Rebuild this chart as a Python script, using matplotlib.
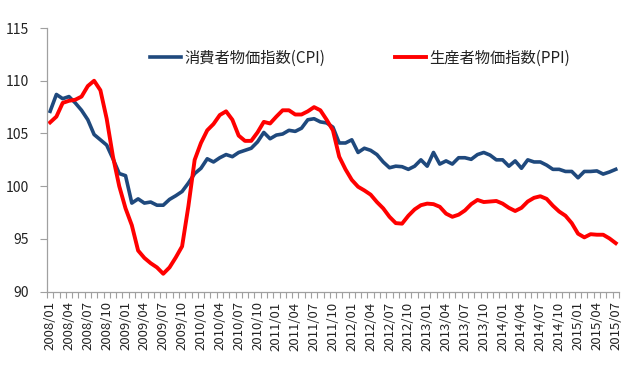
import numpy as np
import matplotlib
matplotlib.use("Agg")
import matplotlib.pyplot as plt

plt.rcParams['font.family'] = ['Noto Sans CJK JP', 'DejaVu Sans']

# 2008/01 .. 2015/07 monthly
months = [f"{y}/{m:02d}" for y in range(2008, 2016) for m in range(1, 13)][:91]

cpi = [107.1, 108.7, 108.3, 108.5, 107.9, 107.2, 106.3, 104.9, 104.4, 103.9,
       102.6, 101.2, 101.0, 98.4, 98.8, 98.4, 98.5, 98.2, 98.2, 98.75,
       99.1, 99.5, 100.3, 101.2, 101.7, 102.6, 102.3, 102.7, 103.0, 102.8,
       103.2, 103.4, 103.6, 104.2, 105.1, 104.5, 104.85, 104.95, 105.3, 105.2,
       105.5, 106.3, 106.4, 106.1, 106.0, 105.6, 104.1, 104.1, 104.4, 103.2,
       103.6, 103.4, 103.0, 102.3, 101.75, 101.9, 101.85, 101.6, 101.9, 102.5,
       101.9, 103.2, 102.1, 102.4, 102.1, 102.7, 102.7, 102.55, 103.0, 103.2,
       102.95, 102.5, 102.5, 101.9, 102.4, 101.7, 102.5, 102.3, 102.3, 102.0,
       101.6, 101.6, 101.4, 101.4, 100.8, 101.4, 101.4, 101.45, 101.15, 101.35,
       101.6]

ppi = [106.05, 106.6, 107.9, 108.1, 108.2, 108.5, 109.5, 110.0, 109.1, 106.4,
       102.8, 100.0, 97.9, 96.3, 93.9, 93.2, 92.7, 92.3, 91.7, 92.3,
       93.25, 94.3, 98.1, 102.5, 104.1, 105.3, 105.9, 106.75, 107.1, 106.3,
       104.8, 104.3, 104.3, 105.1, 106.1, 105.95, 106.6, 107.2, 107.2, 106.8,
       106.8, 107.1, 107.5, 107.2, 106.3, 105.3, 102.8, 101.6, 100.6, 99.95,
       99.6, 99.2, 98.5, 97.9, 97.1, 96.5, 96.45, 97.2, 97.8, 98.2,
       98.35, 98.3, 98.05, 97.4, 97.1, 97.3, 97.7, 98.3, 98.7, 98.5,
       98.55, 98.6, 98.35, 97.95, 97.65, 97.95, 98.55, 98.9, 99.05, 98.8,
       98.15, 97.6, 97.2, 96.5, 95.5, 95.15, 95.45, 95.4, 95.4, 95.05,
       94.6]

x = np.arange(len(months))

fig = plt.figure(figsize=(6.4, 3.87), dpi=100)
ax = fig.add_axes([0.0734, 0.2463, 0.8936, 0.6813])

ax.plot(x, cpi, color='#1F497D', linewidth=2.6, label='消費者物価指数(CPI)')
ax.plot(x, ppi, color='#FF0000', linewidth=2.8, label='生産者物価指数(PPI)')

ax.set_xlim(-0.5, len(months) - 0.5)
ax.set_ylim(90, 115)
ax.set_yticks([90, 95, 100, 105, 110, 115])

# labels every 3 months, small ticks at category edges
ax.set_xticks(x[::3])
ax.set_xticklabels(months[::3], rotation=90, fontsize=9.5, color='#222222')
ax.set_xticks(np.arange(-0.5, len(months), 1), minor=True)
ax.tick_params(axis='x', which='major', length=0, pad=7)
ax.tick_params(axis='x', which='minor', length=4, color='#A0A0A0', width=0.8)
ax.tick_params(axis='y', length=5, color='#A0A0A0', width=0.8, labelsize=10,
               labelcolor='#222222', pad=8)

for s in ['top', 'right']:
    ax.spines[s].set_visible(False)
for s in ['left', 'bottom']:
    ax.spines[s].set_color('#A0A0A0')
    ax.spines[s].set_linewidth(0.9)

leg = fig.legend(loc='center', bbox_to_anchor=(0.5625, 0.85), ncol=2,
                 frameon=False, fontsize=11, handlelength=2.0,
                 columnspacing=4.6, handletextpad=0.2)
for t in leg.get_texts():
    t.set_color('#222222')

plt.savefig('out.png', dpi=100)
